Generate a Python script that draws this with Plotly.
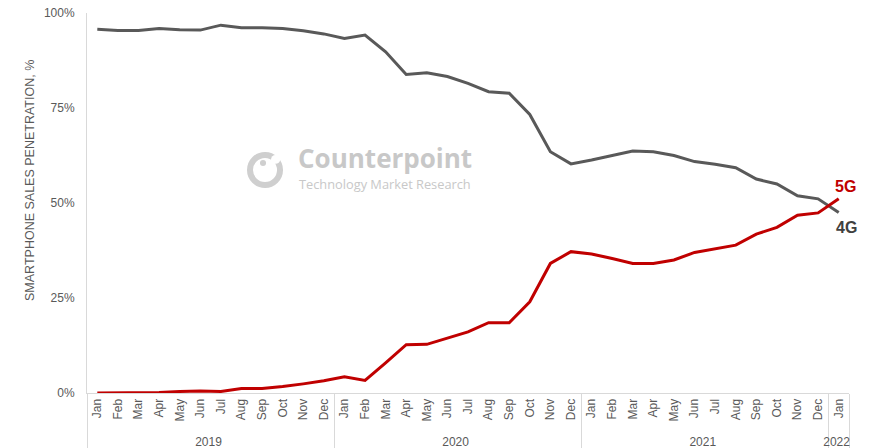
import plotly.graph_objects as go

months = ["Jan", "Feb", "Mar", "Apr", "May", "Jun", "Jul", "Aug", "Sep", "Oct", "Nov", "Dec"]
years = ["2019"] * 12 + ["2020"] * 12 + ["2021"] * 12 + ["2022"]
month_labels = months * 3 + ["Jan"]

share_4g = [95.7, 95.4, 95.4, 95.9, 95.6, 95.5, 96.8, 96.1, 96.1, 95.9, 95.3, 94.5,
            93.3, 94.2, 89.8, 83.8, 84.3, 83.3, 81.5, 79.3, 78.9, 73.3, 63.5, 60.3,
            61.3, 62.4, 63.7, 63.5, 62.5, 60.9, 60.2, 59.3, 56.3, 55.0, 51.9, 51.1,
            47.5]
share_5g = [0.0, 0.0, 0.0, 0.1, 0.4, 0.5, 0.4, 1.2, 1.2, 1.7, 2.4, 3.2,
            4.3, 3.3, 7.9, 12.7, 12.8, 14.4, 16.1, 18.5, 18.5, 24.0, 34.1, 37.2,
            36.6, 35.4, 34.1, 34.1, 35.0, 37.0, 37.9, 38.9, 41.8, 43.6, 46.8, 47.4,
            51.1]

y_ticks = [0, 25, 50, 75, 100]
y_tick_text = ["0%", "25%", "50%", "75%", "100%"]
y_title = "SMARTPHONE SALES PENETRATION, %"

x = [years, month_labels]

fig = go.Figure()
fig.add_trace(go.Scatter(x=x, y=share_4g, mode="lines", name="4G",
                         line=dict(color="#595959", width=3), showlegend=False))
fig.add_trace(go.Scatter(x=x, y=share_5g, mode="lines", name="5G",
                         line=dict(color="#C00000", width=3), showlegend=False))

fig.add_annotation(x=("2022", "Jan"), y=54.3, text="<b>5G</b>", showarrow=False,
                   xanchor="center", xshift=7, font=dict(size=16, color="#C00000"))
fig.add_annotation(x=("2022", "Jan"), y=43.5, text="<b>4G</b>", showarrow=False,
                   xanchor="center", xshift=8, font=dict(size=16, color="#404040"))

# y-axis title
fig.add_annotation(xref="paper", yref="paper", x=-0.0748, y=0.558, text=y_title,
                   textangle=-90, showarrow=False, xanchor="center", yanchor="middle",
                   font=dict(size=12.5, color="#595959"))

# watermark
fig.add_annotation(xref="paper", yref="paper", x=0.2745, y=0.618, text="<b>Counterpoint</b>",
                   showarrow=False, xanchor="left", yanchor="middle",
                   font=dict(family="Open Sans", size=26, color="#C8C8C8"))
fig.add_annotation(xref="paper", yref="paper", x=0.2755, y=0.551, text="Technology Market Research",
                   showarrow=False, xanchor="left", yanchor="middle",
                   font=dict(family="Open Sans", size=12.8, color="#C8C8C8"))
fig.add_shape(type="circle", xref="paper", yref="paper",
              x0=0.2139, x1=0.2533, y0=0.5474, y1=0.6263,
              line=dict(color="#CFCFCF", width=6))
fig.add_shape(type="circle", xref="paper", yref="paper",
              x0=0.2415, x1=0.2535, y0=0.6030, y1=0.6265,
              fillcolor="white", line=dict(width=0))
fig.add_shape(type="circle", xref="paper", yref="paper",
              x0=0.2270, x1=0.2350, y0=0.5974, y1=0.6132,
              fillcolor="#CFCFCF", line=dict(width=0))

fig.update_layout(
    width=869, height=448,
    margin=dict(l=87, r=20, t=13, b=55),
    plot_bgcolor="white", paper_bgcolor="white",
    font=dict(family="Liberation Sans, Arial", size=12, color="#595959"),
)
fig.update_xaxes(
    type="multicategory", range=[-0.5, 36.5], tickangle=-90, showgrid=False,
    showline=True, linecolor="#D9D9D9", linewidth=1,
    showdividers=True, dividercolor="#D9D9D9", dividerwidth=1,
    ticks="", tickfont=dict(size=12, color="#595959"), automargin=False,
)
fig.update_yaxes(
    range=[0, 100], tickvals=y_ticks, ticktext=y_tick_text, showgrid=False,
    showline=True, linecolor="#D9D9D9", linewidth=1, zeroline=False,
    ticks="", ticklen=0, ticklabelstandoff=9, tickfont=dict(size=12, color="#595959"),
    automargin=False,
)

fig.write_html("out.html", config={"displayModeBar": False},
               post_script="document.body.style.margin='0';")
